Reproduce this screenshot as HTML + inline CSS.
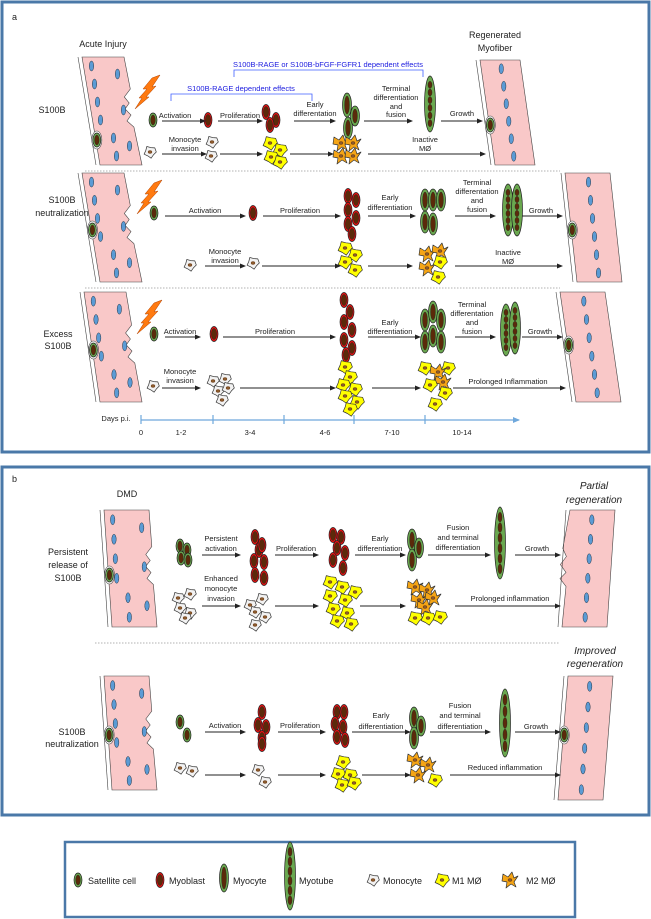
<!DOCTYPE html>
<html><head><meta charset="utf-8"><style>
html,body{margin:0;padding:0;background:#fff;}
svg{display:block;}
text{font-family:"Liberation Sans",sans-serif;font-size:7.5px;fill:#222;text-anchor:middle;}
.lb{font-size:9px;}
.bl{fill:#2020e0;font-size:7.5px;}
.it{font-style:italic;font-size:10px;}
</style></head><body>
<svg id="s" width="651" height="919" viewBox="0 0 651 919" xmlns="http://www.w3.org/2000/svg">
<defs><marker id="ar" markerWidth="6" markerHeight="6" refX="5" refY="3" orient="auto" markerUnits="userSpaceOnUse"><path d="M0,0.5 L6,3 L0,5.5z" fill="#222"/></marker>
<marker id="ab" markerWidth="7" markerHeight="7" refX="6" refY="3.5" orient="auto" markerUnits="userSpaceOnUse"><path d="M0,0.5 L7,3.5 L0,6.5z" fill="#6fa8dc"/></marker></defs>
<rect x="2" y="2" width="647" height="450" fill="none" stroke="#4a78a8" stroke-width="3"/>
<rect x="2" y="467" width="647" height="348" fill="none" stroke="#4a78a8" stroke-width="3"/>
<rect x="65" y="842" width="510" height="75" fill="none" stroke="#4a78a8" stroke-width="2.5"/>
<g id="g"></g>
<!-- texts panel a -->
<text x="12" y="20" class="lb" style="text-anchor:start">a</text>
<text x="103" y="47" class="lb">Acute Injury</text>
<text x="495" y="38" class="lb">Regenerated</text>
<text x="495" y="51" class="lb">Myofiber</text>
<text x="328" y="67" class="bl">S100B-RAGE or S100B-bFGF-FGFR1 dependent effects</text>
<text x="241" y="91" class="bl">S100B-RAGE dependent effects</text>
<text x="52" y="113" class="lb">S100B</text>
<text x="175" y="118">Activation</text>
<text x="240" y="118">Proliferation</text>
<text x="315" y="107">Early</text>
<text x="315" y="116">differentation</text>
<text x="396" y="91">Terminal</text>
<text x="396" y="100">differentiation</text>
<text x="396" y="109">and</text>
<text x="396" y="117">fusion</text>
<text x="462" y="116">Growth</text>
<text x="185" y="142">Monocyte</text>
<text x="185" y="151">invasion</text>
<text x="425" y="142">Inactive</text>
<text x="425" y="151">MØ</text>

<text x="62" y="203" class="lb">S100B</text>
<text x="62" y="216" class="lb">neutralization</text>
<text x="205" y="213">Activation</text>
<text x="300" y="213">Proliferation</text>
<text x="390" y="200">Early</text>
<text x="390" y="210">differentiation</text>
<text x="477" y="185">Terminal</text>
<text x="477" y="194">differentation</text>
<text x="477" y="203">and</text>
<text x="477" y="212">fusion</text>
<text x="541" y="213">Growth</text>
<text x="225" y="254">Monocyte</text>
<text x="225" y="263">invasion</text>
<text x="508" y="255">Inactive</text>
<text x="508" y="264">MØ</text>

<text x="58" y="337" class="lb">Excess</text>
<text x="58" y="349" class="lb">S100B</text>
<text x="180" y="334">Activation</text>
<text x="275" y="334">Proliferation</text>
<text x="390" y="325">Early</text>
<text x="390" y="334">differentiation</text>
<text x="472" y="307">Terminal</text>
<text x="472" y="316">differentation</text>
<text x="472" y="325">and</text>
<text x="472" y="334">fusion</text>
<text x="540" y="334">Growth</text>
<text x="180" y="374">Monocyte</text>
<text x="180" y="383">invasion</text>
<text x="508" y="384">Prolonged Inflammation</text>
<text x="116" y="421">Days p.i.</text>
<text x="141" y="435">0</text>
<text x="181" y="435">1-2</text>
<text x="250" y="435">3-4</text>
<text x="325" y="435">4-6</text>
<text x="392" y="435">7-10</text>
<text x="462" y="435">10-14</text>

<!-- panel b -->
<text x="12" y="482" class="lb" style="text-anchor:start">b</text>
<text x="127" y="497" class="lb">DMD</text>
<text x="594" y="489" class="it">Partial</text>
<text x="594" y="503" class="it">regeneration</text>
<text x="68" y="555" class="lb">Persistent</text>
<text x="68" y="568" class="lb">release of</text>
<text x="68" y="581" class="lb">S100B</text>
<text x="221" y="541">Persistent</text>
<text x="221" y="551">activation</text>
<text x="296" y="551">Proliferation</text>
<text x="380" y="541">Early</text>
<text x="380" y="551">differentiation</text>
<text x="458" y="530">Fusion</text>
<text x="458" y="540">and terminal</text>
<text x="458" y="550">differentiation</text>
<text x="537" y="551">Growth</text>
<text x="221" y="581">Enhanced</text>
<text x="221" y="591">monocyte</text>
<text x="221" y="601">invasion</text>
<text x="510" y="601">Prolonged inflammation</text>

<text x="595" y="654" class="it">Improved</text>
<text x="595" y="667" class="it">regeneration</text>
<text x="72" y="735" class="lb">S100B</text>
<text x="72" y="747" class="lb">neutralization</text>
<text x="225" y="728">Activation</text>
<text x="300" y="728">Proliferation</text>
<text x="381" y="718">Early</text>
<text x="381" y="729">differentiation</text>
<text x="460" y="708">Fusion</text>
<text x="460" y="718">and terminal</text>
<text x="460" y="729">differentiation</text>
<text x="536" y="729">Growth</text>
<text x="505" y="770">Reduced inflammation</text>

<!-- legend -->
<text x="88" y="884" class="lb" style="text-anchor:start">Satellite cell</text>
<text x="169" y="884" class="lb" style="text-anchor:start">Myoblast</text>
<text x="233" y="884" class="lb" style="text-anchor:start">Myocyte</text>
<text x="299" y="884" class="lb" style="text-anchor:start">Myotube</text>
<text x="383" y="884" class="lb" style="text-anchor:start">Monocyte</text>
<text x="452" y="884" class="lb" style="text-anchor:start">M1 MØ</text>
<text x="526" y="884" class="lb" style="text-anchor:start">M2 MØ</text>
</svg>
<script>
var g=document.getElementById('g'),h='';
function E(x,y,rx,ry,f,s,sw){return '<ellipse cx="'+x+'" cy="'+y+'" rx="'+rx+'" ry="'+ry+'" fill="'+f+'" stroke="'+(s||'#222')+'" stroke-width="'+(sw||0.7)+'"/>';}
function sat(x,y){h+=E(x,y,4,7,'#6aa84f')+E(x,y,2.3,5,'#5b2a0a','#222',0.4);}
function mb(x,y){h+=E(x,y,4,7.5,'#e81010')+E(x,y,2.6,5.5,'#5b2a0a','#222',0.4);}
function mc(x,y,l){l=l||11;h+=E(x,y,4.5,l,'#6aa84f')+E(x,y,2.4,l-3,'#5b2a0a','#222',0.4);}
function mt(x,y,l,n){h+=E(x,y,5.5,l,'#6aa84f');var st=(2*l-10)/n;for(var i=0;i<n;i++)h+=E(x,y-l+5+st*(i+.5),2,st/2-0.3,'#5b2a0a','#222',0.4);}
function blob(x,y,r,f){var p='';for(var i=0;i<9;i++){var a=i/9*6.283,rr=r*(i%2?0.75:1.05);p+=(x+rr*Math.cos(a)).toFixed(1)+','+(y+rr*Math.sin(a)).toFixed(1)+' ';}h+='<polygon points="'+p+'" fill="'+f+'" stroke="#333" stroke-width="0.7" stroke-linejoin="round"/>'+E(x,y,2,1.5,'#8b5a2b','#5b2a0a',0.4);}
function mo(x,y){blob(x,y,6,'#f2f2f2');}
function m1(x,y){blob(x,y,7,'#ffff00');}
function m2(x,y){var p='';var pts=[[-7,-6],[-2,-3],[2,-8],[4,-2],[8,-4],[4,2],[6,7],[1,4],[-4,8],[-3,2],[-8,1]];pts.forEach(function(q){p+=(x+q[0])+','+(y+q[1])+' ';});h+='<polygon points="'+p+'" fill="#f5a516" stroke="#333" stroke-width="0.7" stroke-linejoin="round"/>'+E(x,y,2,1.5,'#8b5a2b','#5b2a0a',0.4);}
function ar(x1,y,x2){h+='<line x1="'+x1+'" y1="'+y+'" x2="'+x2+'" y2="'+y+'" stroke="#222" stroke-width="1" marker-end="url(#ar)"/>';}
function bolt(x,y){h+='<polygon points="'+(x+22)+','+(y-20)+' '+(x+14)+','+(y-8)+' '+(x+18)+','+(y-9)+' '+(x+8)+','+(y+2)+' '+(x+11)+','+(y+2)+' '+(x-3)+','+(y+14)+' '+(x+4)+','+(y+3)+' '+(x+1)+','+(y+3)+' '+(x+9)+','+(y-6)+' '+(x+5)+','+(y-6)+' '+(x+14)+','+(y-17)+'" fill="#ff7a10" stroke="#b04000" stroke-width="0.5"/>';}
function fiber(x,y1,y2,w,sl,wound,satY,rightSide){var x2=x+sl;var zz='';
 if(wound){var my=(y1+y2)/2;zz=' L'+(x+w+sl*0.35)+','+(my-22)+' L'+(x+w+sl*0.35-6)+','+(my-14)+' L'+(x+w+sl*0.4-2)+','+(my-8)+' L'+(x+w+sl*0.45-7)+','+(my-2)+' L'+(x+w+sl*0.5-2)+','+(my+4)+' L'+(x+w+sl*0.5-6)+','+(my+10)+' L'+(x+w+sl*0.55)+','+(my+16);}
 var d;
 if(!rightSide){d='M'+x+','+y1+' L'+(x+w)+','+y1+zz+' L'+(x2+w)+','+y2+' L'+x2+','+y2+'Z';}
 else{var my2=(y1+y2)/2;var zl=wound?(' L'+(x+sl*0.5)+','+(my2+18)+' L'+(x+sl*0.5-6)+','+(my2+10)+' L'+(x+sl*0.5)+','+(my2+4)+' L'+(x+sl*0.45-6)+','+(my2-4)+' L'+(x+sl*0.45)+','+(my2-12)+' L'+(x+sl*0.4-4)+','+(my2-20)):'';d='M'+x+','+y1+' L'+(x+w)+','+y1+' L'+(x2+w)+','+y2+' L'+x2+','+y2+zl+'Z';}
 h+='<path d="'+d+'" fill="#f9c8c8" stroke="#444" stroke-width="0.6"/>';
 h+='<line x1="'+(x-4)+'" y1="'+y1+'" x2="'+(x2-4)+'" y2="'+y2+'" stroke="#444" stroke-width="0.6"/>';
 var n=6;for(var i=0;i<n;i++){var t=(i+0.5)/n,yy=y1+t*(y2-y1),xx=x+sl*t;
  if(!rightSide){h+=E(xx+8+(i>3?10:0),yy,2.2,5,'#5b9bd5','#234',0.5);if(i%2==0)h+=E(xx+w-8,yy+8,2.2,5,'#5b9bd5','#234',0.5);}
  else{h+=E(xx+w*0.5,yy,2.2,5,'#5b9bd5','#234',0.5);}}
 if(satY){var t2=(satY-y1)/(y2-y1),sx=x+sl*t2;h+=E(sx+1,satY,5,9,'#fff','#444',0.6);sat(sx+1,satY);}
}
// ---- panel a row1
fiber(82,57,165,42,18,true,140);bolt(138,95);
fiber(480,60,165,40,15,false,125,true);
h+='<path d="M234,77 V70 H423 V77" fill="none" stroke="#4060ff" stroke-width="0.8"/>';
h+='<path d="M171,101 V94 H312 V101" fill="none" stroke="#4060ff" stroke-width="0.8"/>';
sat(153,120);mb(208,120);mb(266,112);mb(276,120);mb(270,125);
mc(347,105,12);mc(348,128,11);mc(355,116,10);mt(430,104,28,6);
ar(162,121,205);ar(218,121,262);ar(294,121,335);ar(364,121,412);ar(441,121,482);
mo(150,152);mo(212,142);mo(211,156);m1(270,143);m1(280,150);m1(271,157);m1(280,162);
m2(341,143);m2(353,143);m2(341,156);m2(353,156);
ar(162,154,206);ar(220,154,262);ar(290,154,333);ar(368,154,485);
h+='<line x1="85" y1="171" x2="560" y2="171" stroke="#999" stroke-width="0.7" stroke-dasharray="1.5,1.5"/>';
// row2
fiber(82,173,282,42,18,true,230);bolt(140,200);
fiber(565,173,282,45,12,false,230,true);
sat(154,213);mb(253,213);
mb(348,196);mb(356,200);mb(348,210);mb(356,218);mb(348,224);mb(352,234);
mc(425,200,11);mc(433,200,11);mc(441,200,11);mc(425,222,11);mc(433,224,11);
mt(508,210,26,6);mt(517,210,26,6);
ar(165,216,245);ar(263,216,340);ar(368,216,415);ar(455,216,495);ar(522,216,562);
mo(190,265);mo(253,263);m1(345,248);m1(355,255);m1(345,262);m1(355,270);
m2(427,254);m2(440,251);m2(427,268);m1(440,262);m1(438,277);
ar(205,266,245);ar(262,266,340);ar(368,266,412);ar(455,266,562);
h+='<line x1="85" y1="288" x2="560" y2="288" stroke="#999" stroke-width="0.7" stroke-dasharray="1.5,1.5"/>';
// row3
fiber(84,292,402,42,16,true,350);bolt(140,320);
fiber(560,292,402,45,16,false,345,true);
sat(154,334);mb(214,334);
mb(344,300);mb(350,312);mb(344,322);mb(352,330);mb(344,340);mb(352,348);mb(346,355);
mc(425,320,11);mc(433,312,11);mc(441,320,11);mc(425,342,11);mc(433,336,11);mc(441,342,11);
mt(506,330,26,6);mt(515,328,26,6);
ar(165,337,200);ar(223,337,335);ar(368,337,420);ar(455,337,495);ar(522,337,562);
mo(153,386);mo(213,381);mo(225,379);mo(218,391);mo(228,388);mo(222,400);
m1(345,367);m1(350,377);m1(343,385);m1(355,389);m1(345,396);m1(357,402);m1(350,409);
m1(425,368);m1(448,368);m2(438,372);m2(443,382);m1(430,385);m1(445,393);m1(435,404);
ar(162,388,200);ar(240,388,335);ar(372,388,420);ar(453,388,565);
h+='<line x1="141" y1="420" x2="519" y2="420" stroke="#6fa8dc" stroke-width="1.3" marker-end="url(#ab)"/>';
[141,213,284,354,425].forEach(function(t){h+='<line x1="'+t+'" y1="415" x2="'+t+'" y2="424" stroke="#6fa8dc" stroke-width="1.2"/>';});
// ---- panel b row1
fiber(104,510,627,45,8,true,575);
fiber(570,510,627,45,-8,true,0,true);
sat(180,546);sat(187,550);sat(181,558);sat(188,560);
mb(255,537);mb(259,550);mb(254,561);mb(264,562);mb(255,575);mb(264,578);mb(262,545);
mb(333,535);mb(341,537);mb(337,548);mb(345,553);mb(333,560);mb(343,568);
mc(412,540,11);mc(419,548,10);mc(412,560,11);mt(500,543,36,6);
ar(202,555,240);ar(275,555,318);ar(355,555,405);ar(428,555,490);ar(515,555,560);
mo(178,598);mo(190,594);mo(180,608);mo(190,613);mo(185,618);
mo(250,605);mo(262,599);mo(255,612);mo(265,617);mo(255,625);
m1(330,582);m1(342,587);m1(330,596);m1(345,600);m1(333,609);m1(347,613);m1(337,621);m1(351,624);m1(355,592);
m2(415,587);m2(427,590);m2(419,600);m2(433,598);m2(425,607);m1(415,618);m1(428,618);m1(440,617);
ar(202,606,240);ar(275,606,318);ar(360,606,405);ar(455,606,560);
h+='<line x1="95" y1="643" x2="560" y2="643" stroke="#999" stroke-width="0.7" stroke-dasharray="1.5,1.5"/>';
// row2
fiber(104,676,790,45,8,true,735);
fiber(568,676,800,45,-10,false,735,true);
sat(180,722);sat(187,735);
mb(262,712);mb(258,725);mb(266,727);mb(262,738);mb(262,744);
mb(337,712);mb(344,712);mb(335,724);mb(343,727);mb(337,737);mb(345,740);
mc(414,718,11);mc(421,726,10);mc(414,738,11);mt(505,723,34,5);
ar(205,732,245);ar(278,732,325);ar(352,732,410);ar(430,732,490);ar(515,732,560);
mo(180,768);mo(192,771);mo(258,770);mo(265,782);
m1(343,762);m1(338,774);m1(350,775);m1(342,785);m1(354,783);
m2(415,760);m2(428,765);m2(418,775);m1(435,780);
ar(205,775,245);ar(278,775,325);ar(362,775,410);ar(450,775,560);
// legend
sat(78,880);mb(160,880);mc(224,878,14);mt(290,876,34,6);mo(373,880);m1(442,880);m2(510,880);
g.innerHTML=h;
</script>
</body></html>
